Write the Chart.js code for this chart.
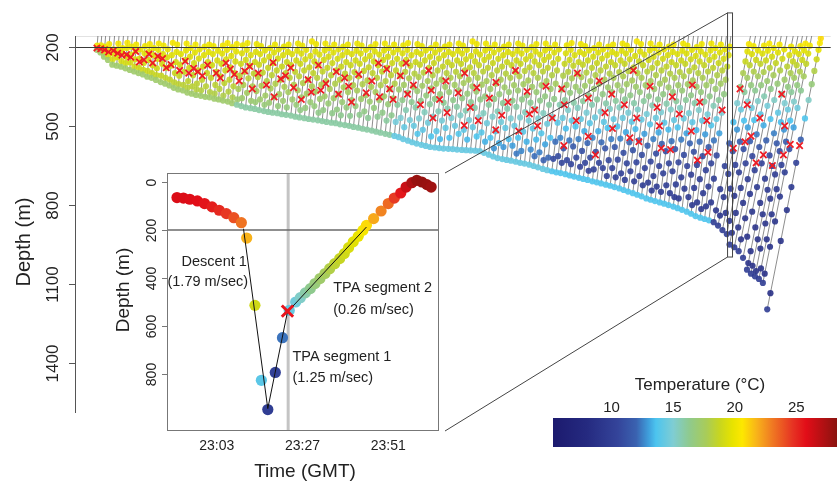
<!DOCTYPE html>
<html>
<head>
<meta charset="utf-8">
<script src="https://cdn.jsdelivr.net/npm/chart.js@4.4.1/dist/chart.umd.min.js"></script>
<style>
  html, body { margin: 0; padding: 0; background: #fff; }
  #wrap { position: relative; width: 837px; height: 481px; overflow: hidden; }
  canvas { position: absolute; }
</style>
</head>
<body>
<div id="wrap">
  <canvas id="main" width="837" height="481" style="left:0;top:0;width:837px;height:481px"></canvas>
  <canvas id="inset" width="350" height="321" style="left:100px;top:160px;width:350px;height:321px"></canvas>
  <canvas id="cbar" width="297" height="90" style="left:540px;top:365px;width:297px;height:90px"></canvas>
</div>
<script>
// ---- main panel: one ascent trace per dive (hour of bottom, bottom depth, TPA break depth, sampled depths)
const diveHour = [
  5.5, 6.4, 7.3, 8.3, 9.4, 10.5, 11.6, 12.7, 13.8, 14.9, 16.0, 17.1, 18.2, 19.3, 20.4, 21.6,
  22.7, 23.8, 24.9, 26.0, 27.2, 28.3, 29.4, 30.5, 31.7, 32.8, 33.9, 35.1, 36.2, 37.3, 38.5, 39.6,
  40.8, 41.9, 43.0, 44.2, 45.3, 46.4, 47.6, 48.7, 49.8, 51.0, 52.1, 53.2, 54.4, 55.5, 56.6, 57.8, 58.9,
  60.0, 61.2, 62.3, 63.4, 64.6, 65.7, 66.8, 68.0, 69.1, 70.2, 71.4, 72.5, 73.6, 74.8, 75.9, 77.0, 78.2, 79.3,
  80.5, 81.6, 82.7, 83.9, 85.0, 86.1, 87.3, 88.4, 89.5, 90.7, 91.8, 92.9, 94.1, 95.2, 96.3, 97.5, 98.6,
  99.7, 100.9, 102.0, 103.1, 104.3, 105.4, 106.5, 107.7, 108.8, 109.9, 111.1, 112.2, 113.3, 114.5, 115.6, 116.7, 117.9, 119.0,
  120.2, 121.3, 122.4, 123.6, 124.7, 125.8, 127.0, 128.1, 129.2, 130.4, 131.5, 132.6, 133.8, 134.9, 136.0, 137.2, 138.3, 139.4,
  140.6, 141.7, 142.8, 144.0, 145.1, 146.2, 147.4, 148.5, 149.6, 150.8, 151.9, 153.0, 154.2, 155.3, 156.4, 157.6, 158.7, 159.8,
  161.0, 162.1, 163.2, 164.3, 165.0, 166.2, 167.3, 168.4, 169.4, 170.4, 171.4, 172.4, 173.4, 174.5
];
const diveBottom = [
  212, 222, 238, 250, 268, 272, 276, 282, 288, 294, 300, 305, 314, 318, 326, 334,
  340, 347, 356, 362, 366, 374, 378, 383, 386, 390, 392, 397, 400, 404, 408, 414,
  420, 425, 430, 433, 436, 440, 444, 447, 450, 452, 456, 458, 461, 465, 468, 471, 474,
  476, 479, 482, 485, 488, 490, 494, 497, 500, 504, 507, 511, 514, 518, 522, 526, 530, 534,
  538, 543, 550, 556, 562, 567, 572, 576, 580, 582, 584, 586, 587, 588, 590, 591, 592,
  593, 594, 596, 602, 609, 616, 622, 626, 629, 632, 636, 640, 643, 647, 652, 657, 663, 668,
  672, 676, 679, 683, 688, 692, 697, 701, 705, 710, 714, 718, 723, 727, 732, 737, 743, 749,
  755, 761, 767, 775, 780, 785, 790, 795, 800, 806, 812, 818, 825, 833, 842, 848, 853, 858,
  865, 878, 895, 910, 950, 960, 975, 1000, 1045, 1060, 1070, 1080, 1095, 1195
];
const diveTPA = [
  205, 208, 212, 220, 215, 225, 232, 230, 240, 218, 258, 250, 228, 262, 236, 245,
  280, 268, 0, 290, 255, 300, 282, 295, 310, 270, 0, 300, 318, 262, 285, 305,
  330, 292, 275, 360, 300, 0, 345, 260, 390, 322, 310, 280, 355, 0, 400, 325, 372,
  270, 365, 340, 0, 295, 380, 318, 350, 410, 305, 0, 375, 330, 262, 390, 285, 360, 400,
  310, 262, 380, 345, 0, 420, 290, 365, 470, 400, 330, 450, 0, 375, 300, 498, 430,
  355, 480, 0, 395, 335, 515, 460, 410, 290, 0, 520, 370, 455, 440, 500, 350, 0, 470,
  360, 420, 575, 300, 480, 0, 395, 540, 330, 610, 450, 380, 510, 0, 420, 290, 545, 470,
  560, 350, 0, 430, 500, 585, 390, 590, 455, 0, 345, 520, 410, 630, 480, 600, 0, 440,
  360, 585, 420, 560, 539, 470, 640, 610, 380, 650, 500, 610, 570, 575
];
const diveDots = [
  "196", "195 208", "200 218", "190 212 232", "210 225 248", "188 210 240", "205 222 255", "185 205 238 262",
  "200 230 260", "192 215 248 275", "210 245 280", "198 225 262 288", "190 218 250 292", "205 232 270 300",
  "188 212 246 282 308", "196 228 265 310", "210 240 280 318", "185 232 272 325", "192 220 258 300 335",
  "228 268 310 342", "188 214 250 295 345", "205 238 280 330 355", "192 222 262 308 350", "210 245 290 340 362",
  "200 232 275 325 365", "192 220 258 300 350", "198 228 270 318 372", "215 252 295 345 378", "196 226 265 312 360",
  "186 212 248 290 338 385", "202 235 278 325 370", "190 218 256 300 350 392",

  "195 225 265 310 360 400", "186 212 250 295 345 395", "232 272 320 375", "190 220 258 302 350 405",
  "198 228 268 315 368 410", "214 252 298 348 400", "205 238 280 330 385 420", "192 222 262 308 358 412",
  "210 245 290 340 392", "200 232 275 325 380 425", "192 220 258 300 352 405", "228 270 318 372 430",
  "188 215 252 295 345 400", "196 226 265 312 365 420", "212 248 290 338 392 440", "180 235 278 325 378 432",
  "190 218 256 300 350 410", "230 270 318 370 425", "188 214 250 294 344 398 450", "205 238 280 330 388 440",
  "192 222 262 308 360 415", "210 246 290 340 395 452", "200 232 275 325 380 438", "192 220 258 302 354 410 460",
  "228 270 318 372 430", "188 215 252 296 346 402 462", "196 226 265 312 366 425", "212 248 292 342 398 458",
  "202 235 278 328 384 445", "190 218 256 300 352 408 470", "230 270 318 372 432", "188 214 250 294 346 402 465",
  "205 238 280 330 388 450", "192 222 262 308 360 418 480", "210 246 290 340 396 460",

  "195 225 265 310 362 420 485", "186 212 250 295 345 402 470", "232 272 320 375 440 505",
  "190 220 258 302 352 410 478", "198 228 268 315 368 430 500", "214 252 298 348 405 472 530",
  "205 238 280 330 385 448 515", "192 222 262 308 358 418 488", "210 245 290 340 398 465 540",
  "200 232 275 325 380 445 520", "192 220 258 300 352 412 480 550", "228 270 318 372 435 508",
  "188 215 252 295 345 402 470 545", "196 226 265 312 365 428 500", "212 248 290 338 395 460 530",
  "180 235 278 325 378 442 515", "190 218 256 300 350 410 478 552", "230 270 318 370 432 505",
  "188 214 250 294 344 400 468 540", "205 238 280 330 388 452 525", "192 222 262 308 360 420 490 560",
  "210 246 290 340 398 465 545", "200 232 275 325 380 445 520 585", "192 220 258 302 354 414 485 565",
  "228 270 318 372 435 508 580", "188 215 252 296 346 404 472 550", "196 226 265 312 366 428 500 575",
  "212 248 292 342 400 468 545 605", "202 235 278 328 384 448 522 595", "190 218 256 300 352 412 480 560",
  "230 270 318 372 436 510 590", "188 214 250 294 346 404 472 552 615", "205 238 280 330 388 452 528 600",
  "192 222 262 308 360 420 492 570 630", "210 246 290 340 398 466 545 620",

  "195 225 265 310 362 420 488 560 625", "186 212 250 295 345 402 470 545 615", "232 272 320 375 440 510 585 640",
  "190 220 258 302 352 412 480 555 630", "198 228 268 315 368 432 502 578 645", "214 252 298 348 406 474 550 620",
  "205 238 280 330 385 450 520 595 655", "192 222 262 308 360 420 490 565 640", "210 245 290 340 400 468 545 620 670",
  "200 232 275 325 380 446 520 598 665", "192 220 258 302 354 415 485 562 640", "228 270 318 372 436 508 585 660",
  "188 215 252 296 346 405 474 550 630 690", "196 226 265 312 366 430 502 580 660", "212 248 292 342 400 470 548 628 695",
  "180 235 278 328 384 450 524 602 680", "190 218 256 300 352 414 484 562 642 705", "230 270 318 372 438 512 592 672",
  "188 214 250 294 346 406 476 555 638 710", "205 238 280 330 388 455 530 610 690", "192 222 262 308 360 422 494 575 660 725",
  "210 246 290 340 400 470 550 635 715", "200 232 275 325 380 448 525 605 690 745", "192 220 258 302 354 416 488 568 652 730",
  "228 270 318 372 438 514 596 680 750", "188 215 252 296 346 406 478 558 642 725", "196 226 265 312 366 432 506 588 672 755",
  "212 248 292 342 402 472 552 638 722 770", "202 235 278 328 384 452 528 610 695 775", "190 218 256 300 352 414 486 566 652 738",
  "230 270 318 372 440 516 598 685 770", "188 214 250 294 346 408 480 560 648 735 800", "205 238 280 330 388 456 532 615 702 790",
  "192 222 262 308 360 424 498 580 668 755 815", "210 246 290 340 402 474 555 642 730 805", "200 232 275 325 380 450 528 612 700 790",

  "190 218 256 300 352 414 486 566 652 740 820", "198 228 270 318 372 438 514 596 682 770 840",
  "214 250 294 346 408 480 560 648 738 830", "196 226 265 312 366 432 506 588 676 765 860",
  "188 215 252 296 346 406 478 558 642 735 830 905", "205 238 280 330 388 456 532 615 702 792 885",
  "192 222 262 308 360 424 498 580 668 758 850 930", "210 246 290 340 402 474 555 642 732 825 920",
  "200 232 275 325 380 450 528 612 700 792 885 975 1020", "218 256 300 352 414 486 566 652 742 835 930 1030",
  "198 228 270 318 372 438 514 596 684 776 870 965 1050", "188 214 250 294 346 408 480 560 648 740 835 930 1040",
  "196 226 265 312 366 432 506 588 676 768 862 958 1060", "168 186 212 248 292 342 402 472 552 640 732 819 936 1134"
];

// water column temperature (deg C), per period of the record
const epochStart = [0, 40.5, 80, 120, 160.5];
const ascentRate = [190, 151, 151, 126, 76];       // m per hour, from the lean of the traces
const profileDepth = [160, 200, 250, 300, 350, 400, 450, 500, 550, 600, 700, 800, 1000, 1200];
const profileTemp = [
  [20.9, 20.0, 19.3, 18.8, 18.3, 17.8, 17.3, 17.0, 16.5, 16.0, 15.0, 14.0, 12.0, 10.0],
  [20.7, 19.8, 19.1, 18.5, 17.8, 17.1, 16.4, 15.7, 15.0, 14.5, 13.0, 12.0, 10.0, 9.0],
  [20.7, 19.8, 19.0, 18.2, 17.3, 16.4, 15.4, 14.4, 13.5, 12.5, 10.5, 9.8, 9.0, 8.5],
  [20.8, 19.9, 19.0, 18.1, 17.2, 16.1, 14.9, 13.8, 12.5, 11.0, 10.0, 9.5, 9.0, 8.5],
  [21.1, 20.1, 18.9, 17.8, 16.6, 15.3, 14.2, 13.2, 12.0, 10.8, 9.8, 9.3, 8.8, 8.5]
];
const bottomTemp = [17.2, 15.9, 14.3, 13.7, 9.8];
const depthTicks = [200, 500, 800, 1100, 1400];
const zoomBoxHours = [164.5, 165.75];
const zoomBoxDepths = [72, 997];

// ---- inset: one dive, minutes after 23:00 GMT
const insetMin = [-8.1, -6.3, -4.5, -2.4, -0.4, 1.7, 3.7, 5.7, 7.8, 9.9,
  11.4, 13.7, 15.5, 17.3, 19.4, 21.4, 23.3,
  25.1, 26.4, 27.8, 29.2, 30.5, 31.9, 33.3, 34.6, 36.0, 37.4, 38.7, 39.9, 41.2, 42.6, 43.9, 44.9,
  46.9, 49.0, 51.0, 52.7, 54.5, 56.0, 57.6, 59.0, 60.4, 61.8, 63.0];
const insetDepth = [65, 67, 72, 79, 90, 104, 118, 132, 149, 170,
  234, 515, 828, 950, 795, 650, 536,
  501, 483, 463, 445, 424, 403, 382, 362, 341, 320, 299, 274, 250, 227, 202, 181,
  153, 121, 90, 67, 46, 21, 3, -7, 0, 11, 21];
const insetTemp = [26.0, 26.0, 25.9, 25.8, 25.6, 25.3, 25.0, 24.6, 24.0, 23.2,
  21.8, 19.0, 14.0, 9.8, 10.2, 12.3, 14.3,
  14.6, 15.2, 15.8, 16.3, 16.8, 17.2, 17.6, 18.0, 18.4, 18.7, 19.0, 19.3, 19.6, 19.9, 20.3, 20.9,
  22.0, 22.8, 23.4, 24.5, 25.5, 26.5, 27.3, 27.9, 28.0, 27.9, 27.7];
const insetSegMin = [10.5, 17.3, 22.8, 44.9];
const insetSegDepth = [195, 946, 543, 188];
const insetTpaMin = 22.8, insetTpaDepth = 539;
const insetMarkMin = 23.0;
const insetTickMin = [3, 27, 51];
const insetTickLabels = ['23:03', '23:27', '23:51'];
const insetDepthTicks = [0, 200, 400, 600, 800];
const insetNotes = [
  { text: 'Descent 1', x: 2.3, y: 334, align: 'center' },
  { text: '(1.79 m/sec)', x: 0.5, y: 417, align: 'center' },
  { text: 'TPA segment 2', x: 35.6, y: 444, align: 'left' },
  { text: '(0.26 m/sec)', x: 35.6, y: 536, align: 'left' },
  { text: 'TPA segment 1', x: 24.2, y: 731, align: 'left' },
  { text: '(1.25 m/sec)', x: 24.2, y: 820, align: 'left' }
];

// ---- colour scale
const cbTemp  = [5.2, 8, 10.5, 12, 13, 13.6, 15, 16.3, 17.7, 18.8, 19.8, 20.6, 21.8, 23, 24.7, 25.8, 28.3];
const cbColor = ['#1c1a6e', '#252a80', '#34449a', '#3a62b0', '#3f9fdc', '#4cc4ef', '#7fcdd3', '#8fca8e', '#a9cc58',
  '#c9d61e', '#e7e300', '#fde800', '#f8b21a', '#f07b22', '#e63323', '#e20d18', '#8a130f'];
const cbTicks = [10, 15, 20, 25];

const FONT = '"Liberation Sans", Arial, Helvetica, sans-serif';
const INSET = { left: 100, top: 160, w: 350, h: 321, pad: { left: 67, right: 5, top: 13, bottom: 50 } };

function hexRgb(h) { return [1, 3, 5].map(i => parseInt(h.slice(i, i + 2), 16)); }
function tempColor(t, alpha) {
  let c = hexRgb(cbColor[cbColor.length - 1]);
  if (t <= cbTemp[0]) c = hexRgb(cbColor[0]);
  else {
    for (let i = 1; i < cbTemp.length; i++) {
      if (t <= cbTemp[i]) {
        const f = (t - cbTemp[i - 1]) / (cbTemp[i] - cbTemp[i - 1]);
        const a = hexRgb(cbColor[i - 1]), b = hexRgb(cbColor[i]);
        c = a.map((v, k) => Math.round(v + f * (b[k] - v)));
        break;
      }
    }
  }
  return 'rgba(' + c.join(',') + ',' + (alpha == null ? 1 : alpha) + ')';
}
function epochOf(h) { let e = 0; epochStart.forEach((s, i) => { if (h >= s) e = i; }); return e; }
function tempAt(e, d) {
  const T = profileTemp[e];
  if (d <= profileDepth[0]) return T[0];
  for (let i = 1; i < profileDepth.length; i++) {
    if (d <= profileDepth[i]) {
      const f = (d - profileDepth[i - 1]) / (profileDepth[i] - profileDepth[i - 1]);
      return T[i - 1] + f * (T[i] - T[i - 1]);
    }
  }
  return T[T.length - 1];
}
function vText(ctx, txt, x, y) {
  ctx.save(); ctx.translate(x, y); ctx.rotate(-Math.PI / 2);
  ctx.textAlign = 'center'; ctx.textBaseline = 'middle'; ctx.fillText(txt, 0, 0); ctx.restore();
}

// build main datasets
const lineData = [], dotData = [], dotColors = [], tpaData = [];
diveHour.forEach((h, i) => {
  const b = diveBottom[i], e = epochOf(h), r = ascentRate[e];
  const xAt = d => h + (b - d) / r;
  lineData.push({ x: h, y: b }, { x: xAt(0), y: 0 }, { x: xAt(0), y: null });
  (diveDots[i] || '').split(' ').filter(Boolean).map(Number).forEach(d => {
    dotData.push({ x: xAt(d), y: d });
    dotColors.push(tempColor(tempAt(e, d), 0.9));
  });
  dotData.push({ x: h, y: b });
  dotColors.push(tempColor(bottomTemp[e], 0.9));
  if (diveTPA[i] > 0) tpaData.push({ x: xAt(diveTPA[i]), y: diveTPA[i] });
});

const mainDecor = {
  id: 'mainDecor',
  beforeDatasetsDraw(chart) {
    const { ctx, chartArea: a } = chart;
    ctx.save();
    ctx.strokeStyle = '#e2e2e2'; ctx.lineWidth = 1;
    ctx.beginPath(); ctx.moveTo(a.left, a.top + 0.5); ctx.lineTo(a.right, a.top + 0.5); ctx.stroke();
    ctx.restore();
  },
  afterDatasetsDraw(chart) {
    const { ctx, chartArea: a, scales: { y } } = chart;
    const py = Math.round(y.getPixelForValue(200)) + 0.5;
    ctx.save();
    ctx.strokeStyle = '#3a3a3a'; ctx.lineWidth = 1;
    ctx.beginPath(); ctx.moveTo(a.left - 6, py); ctx.lineTo(a.right, py); ctx.stroke();
    ctx.restore();
  },
  afterDraw(chart) {
    const { ctx, chartArea: a, scales: { x, y } } = chart;
    ctx.save();
    ctx.strokeStyle = '#555'; ctx.lineWidth = 1;
    ctx.beginPath(); ctx.moveTo(a.left + 0.5, a.top); ctx.lineTo(a.left + 0.5, a.bottom); ctx.stroke();
    ctx.fillStyle = '#222'; ctx.font = '17px ' + FONT;
    depthTicks.forEach(v => {
      const py = Math.round(y.getPixelForValue(v)) + 0.5;
      ctx.beginPath(); ctx.moveTo(a.left - 6, py); ctx.lineTo(a.left, py); ctx.stroke();
      vText(ctx, String(v), 53, py);
    });
    ctx.font = '20px ' + FONT;
    vText(ctx, 'Depth (m)', 24, 242);
    // zoom box and connectors to the inset
    const x0 = x.getPixelForValue(zoomBoxHours[0]), x1 = x.getPixelForValue(zoomBoxHours[1]);
    const y0 = y.getPixelForValue(zoomBoxDepths[0]), y1 = y.getPixelForValue(zoomBoxDepths[1]);
    ctx.strokeStyle = '#444'; ctx.lineWidth = 1;
    ctx.strokeRect(x0, y0, x1 - x0, y1 - y0);
    const ir = INSET.left + INSET.w - INSET.pad.right;
    const it = INSET.top + INSET.pad.top, ib = INSET.top + INSET.h - INSET.pad.bottom;
    ctx.beginPath();
    ctx.moveTo(x0, y0); ctx.lineTo(ir, it);
    ctx.moveTo(x0, y1); ctx.lineTo(ir, ib);
    ctx.stroke();
    ctx.restore();
  }
};

new Chart(document.getElementById('main'), {
  type: 'scatter',
  data: {
    datasets: [
      { data: tpaData, pointStyle: 'crossRot', pointRadius: 4.5, pointBorderColor: '#ee1c24',
        pointBorderWidth: 1.8, pointBackgroundColor: 'transparent', order: 0 },
      { data: dotData, pointRadius: 3.1, pointBackgroundColor: dotColors, pointBorderWidth: 0, order: 1 },
      { data: lineData, showLine: true, spanGaps: false, pointRadius: 0, borderColor: '#5c5c5c',
        borderWidth: 0.7, order: 2 }
    ]
  },
  options: {
    responsive: false, animation: false, devicePixelRatio: 1, events: [],
    layout: { padding: { left: 75, right: 0, top: 36, bottom: 68 } },
    plugins: { legend: { display: false }, tooltip: { enabled: false } },
    scales: {
      x: { type: 'linear', min: 0, max: 190.5, display: false },
      y: { type: 'linear', reverse: true, min: 159.5, max: 1588, display: false }
    }
  },
  plugins: [mainDecor]
});

// ---- inset chart
const insetDecor = {
  id: 'insetDecor',
  beforeDatasetsDraw(chart) {
    const { ctx, chartArea: a, scales: { x, y } } = chart;
    ctx.save();
    ctx.fillStyle = '#fff'; ctx.fillRect(a.left, a.top, a.width, a.height);
    const vx = x.getPixelForValue(insetMarkMin);
    ctx.strokeStyle = '#c4c4c4'; ctx.lineWidth = 3;
    ctx.beginPath(); ctx.moveTo(vx, a.top); ctx.lineTo(vx, a.bottom); ctx.stroke();
    const hy = y.getPixelForValue(200);
    ctx.strokeStyle = '#6a6a6a'; ctx.lineWidth = 1.5;
    ctx.beginPath(); ctx.moveTo(a.left, hy); ctx.lineTo(a.right, hy); ctx.stroke();
    ctx.restore();
  },
  afterDraw(chart) {
    const { ctx, chartArea: a, scales: { x, y } } = chart;
    ctx.save();
    ctx.strokeStyle = '#777'; ctx.lineWidth = 1;
    ctx.strokeRect(a.left + 0.5, a.top + 0.5, a.width - 1, a.height - 1);
    ctx.fillStyle = '#222'; ctx.font = '14px ' + FONT;
    insetDepthTicks.forEach(v => {
      const py = Math.round(y.getPixelForValue(v)) + 0.5;
      ctx.beginPath(); ctx.moveTo(a.left - 5, py); ctx.lineTo(a.left, py); ctx.stroke();
      vText(ctx, String(v), a.left - 15, py);
    });
    ctx.textAlign = 'center'; ctx.textBaseline = 'middle';
    insetTickMin.forEach((v, i) => ctx.fillText(insetTickLabels[i], x.getPixelForValue(v), a.bottom + 15));
    ctx.font = '19px ' + FONT;
    ctx.fillText('Time (GMT)', (a.left + a.right) / 2 + 2, a.bottom + 41);
    vText(ctx, 'Depth (m)', 24, 130);
    ctx.font = '14.5px ' + FONT;
    insetNotes.forEach(n => {
      ctx.textAlign = n.align;
      ctx.fillText(n.text, x.getPixelForValue(n.x), y.getPixelForValue(n.y));
    });
    ctx.restore();
  }
};

new Chart(document.getElementById('inset'), {
  type: 'scatter',
  data: {
    datasets: [
      { data: [{ x: insetTpaMin, y: insetTpaDepth }], pointStyle: 'crossRot', pointRadius: 8,
        pointBorderColor: '#e8141c', pointBorderWidth: 3, order: 0 },
      { data: insetSegMin.map((m, i) => ({ x: m, y: insetSegDepth[i] })), showLine: true, pointRadius: 0,
        borderColor: '#111', borderWidth: 1, order: 1 },
      { data: insetMin.map((m, i) => ({ x: m, y: insetDepth[i] })), pointRadius: 5.6,
        pointBackgroundColor: insetTemp.map(t => tempColor(t)), pointBorderWidth: 0, order: 2 }
    ]
  },
  options: {
    responsive: false, animation: false, devicePixelRatio: 1, events: [],
    layout: { padding: INSET.pad },
    plugins: { legend: { display: false }, tooltip: { enabled: false } },
    scales: {
      x: { type: 'linear', min: -10.9, max: 65.2, display: false },
      y: { type: 'linear', reverse: true, min: -37.6, max: 1039.6, display: false }
    }
  },
  plugins: [insetDecor]
});

// ---- colour bar
const cbarDraw = {
  id: 'cbarDraw',
  afterDraw(chart) {
    const { ctx, chartArea: a, scales: { x } } = chart;
    const lo = x.min, hi = x.max;
    const g = ctx.createLinearGradient(a.left, 0, a.right, 0);
    cbTemp.forEach((t, i) => g.addColorStop(Math.min(1, Math.max(0, (t - lo) / (hi - lo))), cbColor[i]));
    ctx.save();
    ctx.fillStyle = g; ctx.fillRect(a.left, a.top, a.width, a.height);
    ctx.fillStyle = '#222'; ctx.textAlign = 'center'; ctx.textBaseline = 'middle';
    ctx.font = '15px ' + FONT;
    cbTicks.forEach(t => ctx.fillText(String(t), x.getPixelForValue(t), a.top - 10));
    ctx.font = '17px ' + FONT;
    ctx.fillText('Temperature (\u00B0C)', 160, 20);
    ctx.restore();
  }
};

new Chart(document.getElementById('cbar'), {
  type: 'scatter',
  data: { datasets: [] },
  options: {
    responsive: false, animation: false, devicePixelRatio: 1, events: [],
    layout: { padding: { left: 13, right: 0, top: 53, bottom: 8 } },
    plugins: { legend: { display: false }, tooltip: { enabled: false } },
    scales: {
      x: { type: 'linear', min: 5.24, max: 28.3, display: false },
      y: { type: 'linear', min: 0, max: 1, display: false }
    }
  },
  plugins: [cbarDraw]
});
</script>
</body>
</html>
